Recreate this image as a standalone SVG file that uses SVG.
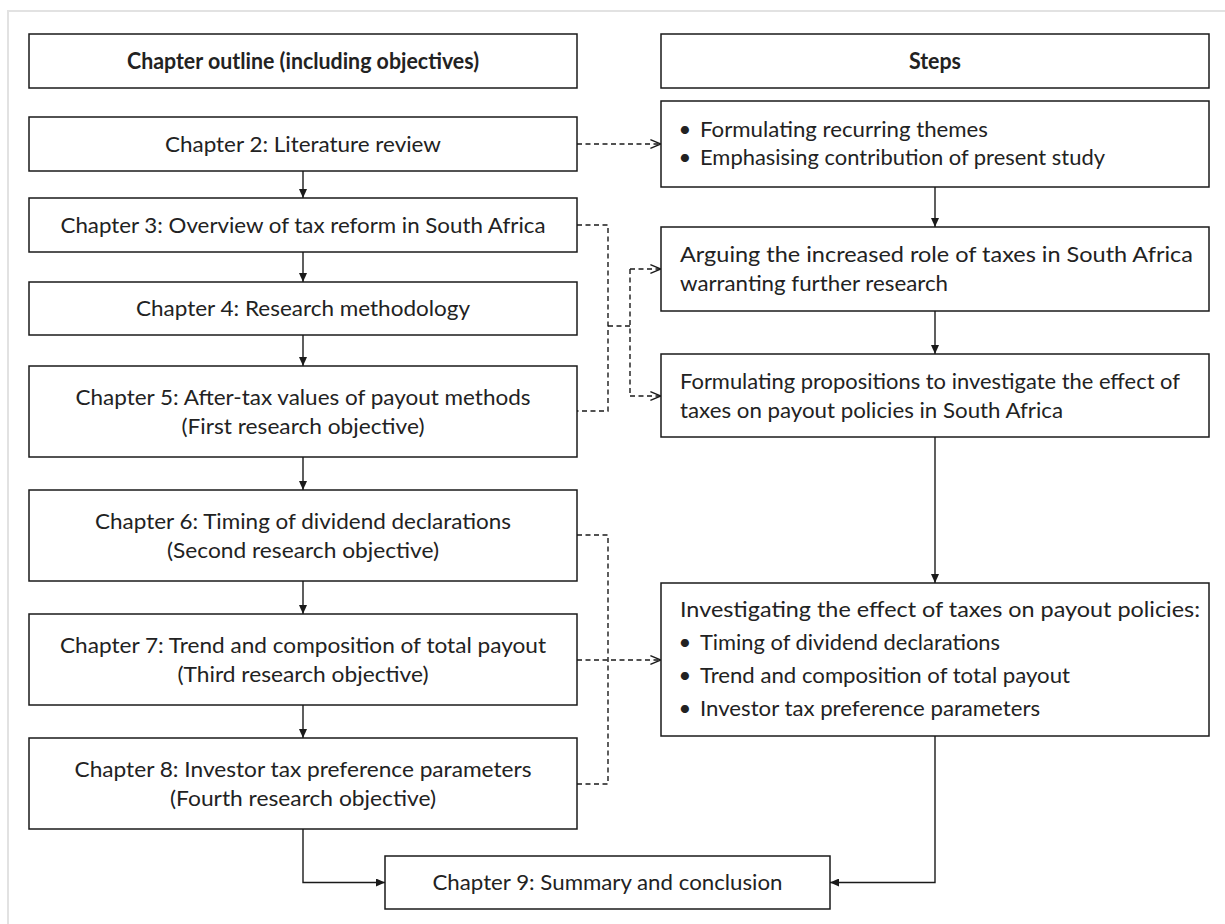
<svg xmlns="http://www.w3.org/2000/svg" width="1225" height="924" viewBox="0 0 1225 924">
<defs>
<style>
.box{fill:#fff;stroke:#1a1a1a;stroke-width:1.5}
.t{font-family:Lato,"Open Sans","Liberation Sans",sans-serif;font-size:22px;fill:#222}
.c{text-anchor:middle}
.b{font-weight:bold}
.ln{fill:none;stroke:#1a1a1a;stroke-width:1.4}
.dl{fill:none;stroke:#1a1a1a;stroke-width:1.4;stroke-dasharray:5 3.5}
</style>
<marker id="ah" markerUnits="userSpaceOnUse" markerWidth="9" markerHeight="8" viewBox="0 0 9 8" refX="9" refY="4" orient="auto"><path d="M0,0 L9,4 L0,8 z" fill="#1a1a1a"/></marker>
<marker id="oh" markerUnits="userSpaceOnUse" markerWidth="12" markerHeight="10" viewBox="0 0 12 10" refX="11.3" refY="5" orient="auto"><path d="M0.7,0.7 L11.3,5 L0.7,9.3" fill="none" stroke="#1a1a1a" stroke-width="1.4"/></marker>
</defs>
<rect x="8" y="11" width="1240" height="940" fill="none" stroke="#e2e2e2" stroke-width="2"/>

<g id="connectors">
<path class="ln" d="M303,171 V198" marker-end="url(#ah)"/>
<path class="ln" d="M303,252 V282" marker-end="url(#ah)"/>
<path class="ln" d="M303,335 V366" marker-end="url(#ah)"/>
<path class="ln" d="M303,457 V490" marker-end="url(#ah)"/>
<path class="ln" d="M303,581 V614" marker-end="url(#ah)"/>
<path class="ln" d="M303,705 V738" marker-end="url(#ah)"/>
<path class="ln" d="M935,187 V227" marker-end="url(#ah)"/>
<path class="ln" d="M935,311 V354" marker-end="url(#ah)"/>
<path class="ln" d="M935,437 V583" marker-end="url(#ah)"/>
<path class="ln" d="M303,829 V882.5 H385" marker-end="url(#ah)"/>
<path class="ln" d="M935,736 V882.5 H830" marker-end="url(#ah)"/>
<path class="dl" d="M577,144 H661" marker-end="url(#oh)"/>
<path class="dl" d="M577,225 H608 V411 H577"/>
<path class="dl" d="M608,326 H630"/>
<path class="dl" d="M630,269 V396"/>
<path class="dl" d="M630,269 H661" marker-end="url(#oh)"/>
<path class="dl" d="M630,396 H661" marker-end="url(#oh)"/>
<path class="dl" d="M577,535 H608 V784 H577"/>
<path class="dl" d="M577,660 H661" marker-end="url(#oh)"/>
</g>

<g id="header-left">
<rect class="box" x="29" y="34" width="548" height="54"/>
<text class="t c b" x="303" y="69" textLength="352" lengthAdjust="spacingAndGlyphs">Chapter outline (including objectives)</text>
</g>
<g id="header-right">
<rect class="box" x="661" y="34" width="548" height="54"/>
<text class="t c b" x="935" y="69" textLength="52" lengthAdjust="spacingAndGlyphs">Steps</text>
</g>

<g id="ch2">
<rect class="box" x="29" y="117" width="548" height="54"/>
<text class="t c" x="303" y="151.5" textLength="276" lengthAdjust="spacingAndGlyphs">Chapter 2: Literature review</text>
</g>
<g id="ch3">
<rect class="box" x="29" y="198" width="548" height="54"/>
<text class="t c" x="303" y="232.5" textLength="485" lengthAdjust="spacingAndGlyphs">Chapter 3: Overview of tax reform in South Africa</text>
</g>
<g id="ch4">
<rect class="box" x="29" y="282" width="548" height="53"/>
<text class="t c" x="303" y="316" textLength="334" lengthAdjust="spacingAndGlyphs">Chapter 4: Research methodology</text>
</g>
<g id="ch5">
<rect class="box" x="29" y="366" width="548" height="91"/>
<text class="t c" x="303" y="404.5" textLength="455" lengthAdjust="spacingAndGlyphs">Chapter 5: After-tax values of payout methods</text>
<text class="t c" x="303" y="433.5" textLength="243" lengthAdjust="spacingAndGlyphs">(First research objective)</text>
</g>
<g id="ch6">
<rect class="box" x="29" y="490" width="548" height="91"/>
<text class="t c" x="303" y="528.5" textLength="416" lengthAdjust="spacingAndGlyphs">Chapter 6: Timing of dividend declarations</text>
<text class="t c" x="303" y="557.5" textLength="272" lengthAdjust="spacingAndGlyphs">(Second research objective)</text>
</g>
<g id="ch7">
<rect class="box" x="29" y="614" width="548" height="91"/>
<text class="t c" x="303" y="652.5" textLength="486" lengthAdjust="spacingAndGlyphs">Chapter 7: Trend and composition of total payout</text>
<text class="t c" x="303" y="681.5" textLength="251" lengthAdjust="spacingAndGlyphs">(Third research objective)</text>
</g>
<g id="ch8">
<rect class="box" x="29" y="738" width="548" height="91"/>
<text class="t c" x="303" y="776.5" textLength="457" lengthAdjust="spacingAndGlyphs">Chapter 8: Investor tax preference parameters</text>
<text class="t c" x="303" y="805.5" textLength="266" lengthAdjust="spacingAndGlyphs">(Fourth research objective)</text>
</g>
<g id="ch9">
<rect class="box" x="385" y="856" width="445" height="53"/>
<text class="t c" x="607.5" y="890" textLength="350" lengthAdjust="spacingAndGlyphs">Chapter 9: Summary and conclusion</text>
</g>

<g id="step-themes">
<rect class="box" x="661" y="101" width="548" height="86"/>
<text class="t c" x="685" y="137">•</text>
<text class="t" x="700" y="137" textLength="288" lengthAdjust="spacingAndGlyphs">Formulating recurring themes</text>
<text class="t c" x="685" y="165">•</text>
<text class="t" x="700" y="165" textLength="405" lengthAdjust="spacingAndGlyphs">Emphasising contribution of present study</text>
</g>
<g id="step-arguing">
<rect class="box" x="661" y="227" width="548" height="84"/>
<text class="t" x="680" y="262" textLength="513" lengthAdjust="spacingAndGlyphs">Arguing the increased role of taxes in South Africa</text>
<text class="t" x="680" y="291" textLength="268" lengthAdjust="spacingAndGlyphs">warranting further research</text>
</g>
<g id="step-propositions">
<rect class="box" x="661" y="354" width="548" height="83"/>
<text class="t" x="680" y="388.5" textLength="500" lengthAdjust="spacingAndGlyphs">Formulating propositions to investigate the effect of</text>
<text class="t" x="680" y="417.5" textLength="383" lengthAdjust="spacingAndGlyphs">taxes on payout policies in South Africa</text>
</g>
<g id="step-investigating">
<rect class="box" x="661" y="583" width="548" height="153"/>
<text class="t" x="680" y="617" textLength="520" lengthAdjust="spacingAndGlyphs">Investigating the effect of taxes on payout policies:</text>
<text class="t c" x="685" y="650">•</text>
<text class="t" x="700" y="650" textLength="300" lengthAdjust="spacingAndGlyphs">Timing of dividend declarations</text>
<text class="t c" x="685" y="683">•</text>
<text class="t" x="700" y="683" textLength="370" lengthAdjust="spacingAndGlyphs">Trend and composition of total payout</text>
<text class="t c" x="685" y="716">•</text>
<text class="t" x="700" y="716" textLength="340" lengthAdjust="spacingAndGlyphs">Investor tax preference parameters</text>
</g>
</svg>
